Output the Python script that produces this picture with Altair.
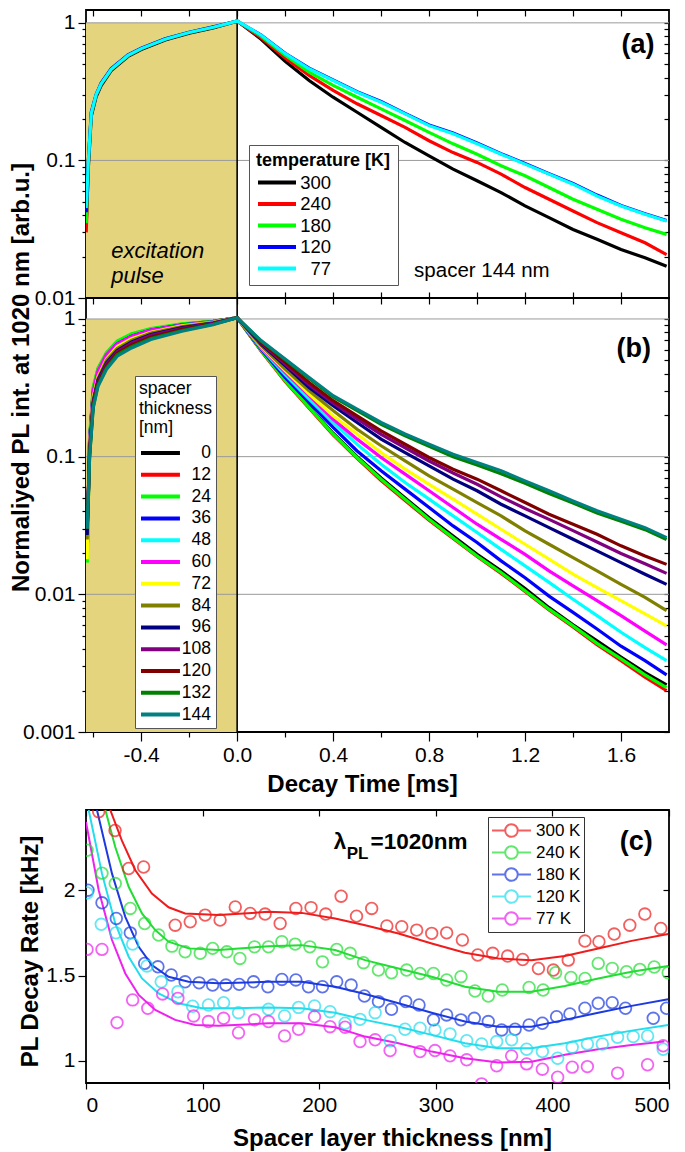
import altair as alt
import pandas as pd

FONT = "Liberation Sans"

# ---------------- shared time grids (ms) ----------------
t_rise_a = [-0.629, -0.62, -0.608, -0.588, -0.567, -0.525, -0.455, -0.4, -0.3, -0.2, -0.1, 0.0]
t_rise_b = [-0.625, -0.615, -0.60, -0.58, -0.545, -0.50, -0.44, -0.36, -0.23, -0.10, 0.0]
t_decay = [0.1, 0.2, 0.3, 0.4, 0.5, 0.6, 0.7, 0.8, 0.9, 1.0, 1.1, 1.2, 1.3, 1.4, 1.5, 1.6, 1.7, 1.79]

# ---------------- panel (a): temperatures, spacer 144 nm ----------------
temp_labels = ["300", "240", "180", "120", "\u200777"]
temp_colors = ["#000000", "#ff0000", "#00ff00", "#0000ff", "#00ffff"]
rise_a = [
    [0.035, 0.09, 0.21, 0.29, 0.35, 0.45, 0.57, 0.64, 0.75, 0.84, 0.92, 1.03],
    [0.03, 0.10, 0.22, 0.30, 0.36, 0.46, 0.58, 0.65, 0.76, 0.85, 0.93, 1.03],
    [0.035, 0.10, 0.22, 0.30, 0.36, 0.46, 0.58, 0.65, 0.765, 0.855, 0.93, 1.03],
    [0.042, 0.10, 0.225, 0.30, 0.365, 0.465, 0.585, 0.655, 0.765, 0.855, 0.935, 1.03],
    [0.045, 0.10, 0.22, 0.30, 0.36, 0.46, 0.58, 0.65, 0.76, 0.85, 0.93, 1.03],
]
decay_a = [
    [0.76, 0.525, 0.381, 0.288, 0.224, 0.174, 0.135, 0.108, 0.0865, 0.0711, 0.0584, 0.0467, 0.0384, 0.0315, 0.0267, 0.0225, 0.0196, 0.017],
    [0.778, 0.556, 0.415, 0.323, 0.258, 0.212, 0.174, 0.139, 0.114, 0.0967, 0.0795, 0.0635, 0.0522, 0.0429, 0.0353, 0.0298, 0.0252, 0.0207],
    [0.80, 0.581, 0.439, 0.351, 0.288, 0.237, 0.195, 0.160, 0.132, 0.111, 0.0914, 0.0773, 0.0635, 0.0522, 0.0441, 0.0373, 0.0324, 0.029],
    [0.815, 0.60, 0.468, 0.385, 0.316, 0.268, 0.22, 0.181, 0.158, 0.134, 0.112, 0.095, 0.080, 0.068, 0.056, 0.047, 0.041, 0.0365],
    [0.813, 0.597, 0.464, 0.381, 0.313, 0.265, 0.218, 0.179, 0.156, 0.132, 0.111, 0.094, 0.0795, 0.0672, 0.0552, 0.0467, 0.0406, 0.0363],
]

# ---------------- panel (b): spacer thickness series ----------------
spacer_labels = ["0", "12", "24", "36", "48", "60", "72", "84", "96", "108", "120", "132", "144"]
spacer_colors = ["#000000", "#ff0000", "#00ff00", "#0000ff", "#00ffff", "#ff00ff", "#ffff00",
                 "#808000", "#000080", "#800080", "#800000", "#008000", "#008080"]
rise_b = [
    [0.02, 0.13, 0.30, 0.42, 0.55, 0.67, 0.76, 0.84, 0.91, 0.96, 1.02],
    [0.02, 0.13, 0.31, 0.43, 0.56, 0.68, 0.77, 0.84, 0.915, 0.96, 1.02],
    [0.017, 0.14, 0.32, 0.44, 0.57, 0.69, 0.78, 0.85, 0.92, 0.96, 1.02],
    [0.02, 0.13, 0.29, 0.41, 0.54, 0.66, 0.75, 0.83, 0.905, 0.955, 1.02],
    [0.02, 0.125, 0.28, 0.40, 0.53, 0.65, 0.74, 0.82, 0.90, 0.95, 1.02],
    [0.022, 0.13, 0.30, 0.42, 0.55, 0.66, 0.75, 0.83, 0.90, 0.95, 1.02],
    [0.018, 0.12, 0.27, 0.38, 0.51, 0.63, 0.72, 0.80, 0.89, 0.945, 1.02],
    [0.025, 0.115, 0.26, 0.37, 0.50, 0.61, 0.70, 0.79, 0.88, 0.94, 1.02],
    [0.027, 0.11, 0.25, 0.36, 0.48, 0.59, 0.68, 0.77, 0.865, 0.935, 1.02],
    [0.03, 0.11, 0.245, 0.35, 0.47, 0.58, 0.67, 0.76, 0.855, 0.93, 1.02],
    [0.03, 0.105, 0.24, 0.34, 0.455, 0.565, 0.65, 0.74, 0.84, 0.92, 1.02],
    [0.03, 0.10, 0.23, 0.33, 0.44, 0.55, 0.63, 0.72, 0.825, 0.915, 1.02],
    [0.03, 0.10, 0.226, 0.325, 0.43, 0.537, 0.616, 0.709, 0.814, 0.91, 1.02],
]
decay_b = [
    [0.59, 0.36, 0.23, 0.148, 0.10, 0.07, 0.05, 0.036, 0.0265, 0.0195, 0.0148, 0.011, 0.008, 0.006, 0.0046, 0.0035, 0.0027, 0.0022],
    [0.585, 0.352, 0.225, 0.144, 0.097, 0.067, 0.048, 0.0345, 0.0255, 0.0188, 0.0142, 0.0105, 0.0077, 0.0058, 0.0043, 0.0033, 0.0025, 0.002],
    [0.589, 0.356, 0.228, 0.146, 0.0986, 0.0686, 0.0491, 0.0351, 0.0258, 0.019, 0.0144, 0.0106, 0.0078, 0.0059, 0.0044, 0.0034, 0.0026, 0.0021],
    [0.602, 0.376, 0.248, 0.163, 0.110, 0.0789, 0.0581, 0.0427, 0.0314, 0.0238, 0.0175, 0.0132, 0.0097, 0.0074, 0.0056, 0.0042, 0.0033, 0.0026],
    [0.612, 0.394, 0.262, 0.177, 0.123, 0.0882, 0.0649, 0.0491, 0.0371, 0.0281, 0.0212, 0.0161, 0.0122, 0.0092, 0.0070, 0.0053, 0.0041, 0.0033],
    [0.622, 0.41, 0.277, 0.187, 0.134, 0.0986, 0.0746, 0.0565, 0.0427, 0.0323, 0.0251, 0.0195, 0.0148, 0.0115, 0.009, 0.007, 0.0054, 0.0043],
    [0.63, 0.421, 0.285, 0.198, 0.146, 0.107, 0.0811, 0.063, 0.0491, 0.0382, 0.0297, 0.0231, 0.018, 0.014, 0.0112, 0.009, 0.0072, 0.0059],
    [0.64, 0.433, 0.301, 0.216, 0.158, 0.12, 0.0933, 0.0726, 0.0581, 0.0464, 0.0371, 0.0289, 0.0231, 0.0185, 0.0148, 0.0118, 0.0095, 0.0076],
    [0.658, 0.458, 0.318, 0.234, 0.177, 0.134, 0.107, 0.0858, 0.0686, 0.0565, 0.0451, 0.0371, 0.0305, 0.0251, 0.0207, 0.017, 0.014, 0.0118],
    [0.668, 0.47, 0.333, 0.246, 0.188, 0.145, 0.116, 0.093, 0.076, 0.063, 0.051, 0.042, 0.035, 0.029, 0.024, 0.0198, 0.0167, 0.0142],
    [0.677, 0.484, 0.346, 0.255, 0.198, 0.154, 0.123, 0.0986, 0.0811, 0.0686, 0.0565, 0.0464, 0.0382, 0.0323, 0.0273, 0.0225, 0.019, 0.0165],
    [0.69, 0.505, 0.37, 0.272, 0.216, 0.172, 0.142, 0.119, 0.1, 0.087, 0.075, 0.064, 0.054, 0.046, 0.039, 0.034, 0.0295, 0.025],
    [0.696, 0.512, 0.376, 0.277, 0.221, 0.177, 0.146, 0.123, 0.104, 0.0907, 0.0789, 0.0667, 0.0565, 0.0477, 0.0404, 0.0351, 0.0305, 0.0258],
]

# ---------------- panel (c): decay rate vs spacer thickness ----------------
c_labels = ["300 K", "240 K", "180 K", "120 K", "\u200777 K"]
c_colors = ["#ee1c1c", "#22dd33", "#1c3ae0", "#22ddee", "#ee22ee"]
pts_x = [
    [10.9, 24.9, 36.6, 49.4, 76.5, 89.4, 102.2, 115, 128, 140.8, 153.6, 166.5, 180, 193, 205.6, 218.8, 232, 245, 258, 270.8, 283.6, 296.5, 309.3, 322.8, 336, 348.8, 361.6, 374.5, 388, 400.8, 413.6, 427.9, 439.9, 453, 466.4, 479.3, 493],
    [0.9, 13.7, 25.1, 38, 50.3, 62.3, 73.7, 85, 98, 108.6, 120.8, 132, 144.5, 156.5, 168, 179.4, 192, 202.8, 215, 226.5, 238, 250.8, 262, 275, 286.5, 298, 309.3, 321.6, 333.6, 345, 357, 380, 392, 402.7, 415.9, 428, 439.3, 451.3, 463.6, 475, 487.3, 499.3],
    [1.7, 13.7, 26, 38, 50.3, 61.7, 73.1, 85, 97, 108.6, 120, 131.4, 143.7, 156, 168, 180, 190.8, 202.8, 215, 227.4, 238.8, 250.8, 262, 274.2, 285.6, 298, 309.3, 321.6, 333, 345, 356.5, 368, 380, 391.4, 403.6, 415, 427.9, 439.3, 451.3, 462.7, 486.5, 497.9],
    [0.9, 13.1, 25.7, 40, 52.3, 64.5, 78.8, 91.4, 105, 118, 130.8, 156.5, 170.3, 182.3, 196, 209.3, 222.2, 235, 248, 260.8, 273.6, 286.5, 299.3, 312.2, 326.5, 339.3, 352.2, 365, 377.9, 391.4, 404.5, 417, 430, 442.8, 455.9, 469.3, 481.6, 495],
    [0.9, 13.7, 26.6, 40, 53, 65.7, 78.8, 92.3, 105, 118, 130.8, 144.5, 156.5, 170.3, 182.3, 196, 209.3, 222.2, 235, 248, 260.8, 286.5, 299.3, 312.2, 326.5, 339.3, 352.2, 365, 377.9, 391.4, 404.5, 417, 430, 455.9, 481.6, 495],
]
pts_y = [
    [2.46, 2.35, 2.127, 2.136, 1.795, 1.815, 1.854, 1.825, 1.902, 1.864, 1.86, 1.805, 1.893, 1.898, 1.86, 1.965, 1.848, 1.893, 1.79, 1.786, 1.766, 1.747, 1.75, 1.708, 1.62, 1.63, 1.614, 1.594, 1.541, 1.532, 1.59, 1.702, 1.698, 1.743, 1.795, 1.86, 1.776],
    [2.234, 2.10, 2.039, 1.893, 1.805, 1.737, 1.672, 1.639, 1.63, 1.659, 1.639, 1.60, 1.668, 1.668, 1.698, 1.684, 1.668, 1.58, 1.653, 1.63, 1.575, 1.532, 1.516, 1.532, 1.512, 1.512, 1.474, 1.493, 1.409, 1.38, 1.415, 1.43, 1.415, 1.516, 1.489, 1.483, 1.571, 1.542, 1.522, 1.536, 1.55, 1.516],
    [2.0, 1.926, 1.834, 1.75, 1.571, 1.551, 1.503, 1.463, 1.457, 1.444, 1.444, 1.448, 1.463, 1.434, 1.477, 1.474, 1.434, 1.434, 1.463, 1.444, 1.38, 1.347, 1.302, 1.347, 1.327, 1.24, 1.269, 1.24, 1.249, 1.23, 1.181, 1.185, 1.21, 1.22, 1.259, 1.275, 1.308, 1.337, 1.341, 1.308, 1.249, 1.308],
    [1.984, 1.80, 1.75, 1.684, 1.556, 1.463, 1.405, 1.32, 1.327, 1.341, 1.282, 1.302, 1.263, 1.313, 1.322, 1.288, 1.22, 1.243, 1.282, 1.118, 1.185, 1.191, 1.181, 1.158, 1.118, 1.099, 1.113, 1.123, 1.068, 1.054, 1.015, 1.08, 1.099, 1.099, 1.138, 1.142, 1.146, 1.068],
    [1.653, 1.653, 1.224, 1.357, 1.308, 1.392, 1.366, 1.263, 1.23, 1.249, 1.165, 1.24, 1.23, 1.146, 1.185, 1.259, 1.2, 1.197, 1.113, 1.123, 1.06, 1.054, 1.06, 1.029, 1.006, 0.865, 0.971, 1.029, 0.982, 0.951, 0.904, 0.963, 0.966, 0.928, 0.977, 1.088],
]
fit_x = [
    [20.8, 30.8, 42.3, 56.5, 70.8, 85, 113.7, 156.5, 185, 213.6, 239.4, 268, 296.5, 325, 353.6, 382, 410.7, 439.3, 467.9, 499.3],
    [16.6, 25.1, 36.6, 48, 59.4, 70.8, 88, 113.7, 156.5, 185, 213.6, 239.4, 268, 296.5, 325, 353.6, 382, 410.7, 439.3, 467.9, 499.3],
    [9.4, 22.3, 33.7, 45.2, 56.5, 70.8, 88, 113.7, 156.5, 185, 213.6, 239.4, 268, 296.5, 325, 353.6, 382, 410.7, 439.3, 467.9, 499.3],
    [2.3, 13.7, 25.1, 36.6, 48, 62.3, 79.4, 99.4, 128, 156.5, 185, 213.6, 239.4, 268, 296.5, 325, 353.6, 382, 410.7, 439.3, 467.9, 499.3],
    [0, 10.9, 22.3, 33.7, 45.2, 59.4, 76.5, 93.7, 113.7, 156.5, 185, 213.6, 239.4, 268, 296.5, 325, 353.6, 382, 410.7, 439.3, 467.9, 496],
]
fit_y = [
    [2.47, 2.29, 2.117, 1.98, 1.90, 1.864, 1.854, 1.873, 1.867, 1.834, 1.795, 1.746, 1.688, 1.633, 1.60, 1.59, 1.614, 1.658, 1.703, 1.743],
    [2.47, 2.253, 2.02, 1.864, 1.766, 1.698, 1.659, 1.649, 1.672, 1.678, 1.649, 1.59, 1.541, 1.493, 1.434, 1.405, 1.405, 1.439, 1.483, 1.522, 1.556],
    [2.47, 2.097, 1.844, 1.668, 1.561, 1.493, 1.463, 1.454, 1.463, 1.463, 1.434, 1.392, 1.337, 1.282, 1.23, 1.20, 1.20, 1.24, 1.282, 1.322, 1.361],
    [2.47, 2.097, 1.805, 1.61, 1.483, 1.395, 1.337, 1.308, 1.308, 1.313, 1.308, 1.282, 1.24, 1.20, 1.152, 1.103, 1.074, 1.074, 1.103, 1.142, 1.177, 1.21],
    [2.40, 2.0, 1.708, 1.512, 1.386, 1.298, 1.24, 1.21, 1.205, 1.22, 1.22, 1.197, 1.142, 1.103, 1.054, 1.015, 0.99, 0.995, 1.035, 1.068, 1.093, 1.113],
]

# ---------------- ticks ----------------
x_major = [-0.4, 0.0, 0.4, 0.8, 1.2, 1.6]
x_minor = [-0.6, -0.2, 0.2, 0.6, 1.0, 1.4]
x_all = sorted(x_major + x_minor)
dec_a = [0.01, 0.1, 1.0]
dec_b = [0.001, 0.01, 0.1, 1.0]
minor_a = [round(m * d, 4) for d in [0.01, 0.1] for m in range(2, 10)]
minor_b = [round(m * d, 5) for d in [0.001, 0.01, 0.1] for m in range(2, 10)]
c_x_ticks = [0, 100, 200, 300, 400, 500]
c_y_ticks = [1.0, 1.5, 2.0]
pulse_t = [-0.63, 0.0]
grid_a = [1.0, 0.1]
grid_b = [1.0, 0.1, 0.01]

W = 583
HA, HB, HC = 288, 434, 273
xs = alt.Scale(domain=[-0.63, 1.8], nice=False, zero=False)
ya = alt.Scale(type="log", domain=[0.01, 1.24], nice=False)
yb = alt.Scale(type="log", domain=[0.001, 1.42], nice=False)
xc = alt.Scale(domain=[0, 500], nice=False, zero=False)
yc = alt.Scale(domain=[0.87, 2.47], nice=False, zero=False)
PULSE = "#e4d47e"

# legend symbol shapes (unit = half of sqrt(symbolSize))
SYM_LINE_A = "M-1,0L3,0"
SYM_LINE_B = "M-1,0L3.1,0"
SYM_C = ("M-1,0L0.37,0M1.73,0L3.1,0M0.39,0A0.66,0.66,0,1,1,1.71,0"
         "A0.66,0.66,0,1,1,0.39,0")


def inward(orient, values, size=6):
    return alt.Axis(orient=orient, values=values, labels=False, ticks=True, tickSize=size,
                    offset=-size, domain=False, grid=False, title=None,
                    tickColor="black", tickWidth=1.2)


def minor_axis(orient, values, size=4):
    return alt.Axis(orient=orient, values=values, labels=False, ticks=True, tickSize=size,
                    domain=False, grid=False, title=None, tickColor="black", tickWidth=1.2)


def long_df(labels, t1, rises, decays):
    rows = []
    for lab, r, d in zip(labels, rises, decays):
        for t, v in zip(t1 + t_decay, r + d):
            rows.append({"s": lab, "t": t, "v": v})
    return pd.DataFrame(rows)


def text_layer(txt, x, y, xsc, ysc, size, weight="normal", style="normal", align="left"):
    return alt.Chart(pd.DataFrame({"k": [0]})).mark_text(
        text=txt, font=FONT, fontSize=size, fontWeight=weight, fontStyle=style,
        align=align, baseline="middle", color="black"
    ).encode(x=alt.X(datum=x, scale=xsc, axis=None), y=alt.Y(datum=y, scale=ysc, axis=None))


def pulse_layer(ysc, ybottom, xaxis, yaxis):
    df = pd.DataFrame({"x": [pulse_t[0]], "x2": [pulse_t[1]], "y": [ybottom], "y2": [1.0]})
    return alt.Chart(df).mark_rect(color=PULSE).encode(
        x=alt.X("x:Q", scale=xs, axis=xaxis), x2="x2:Q",
        y=alt.Y("y:Q", scale=ysc, axis=yaxis), y2="y2:Q")


def grid_layer(vals, ysc, yaxis):
    return alt.Chart(pd.DataFrame({"g": vals})).mark_rule(color="#9a9a9a", strokeWidth=1).encode(
        y=alt.Y("g:Q", scale=ysc, axis=yaxis))


def vline_layer():
    return alt.Chart(pd.DataFrame({"z": [0.0]})).mark_rule(color="black", strokeWidth=1.6).encode(
        x=alt.X("z:Q", scale=xs, axis=inward("top", x_all)))


# ---------------- panel (a) ----------------
df_a = long_df(temp_labels, t_rise_a, rise_a, decay_a)
leg_a = alt.Legend(title="temperature [K]", orient="none", legendX=163, legendY=135,
                   symbolType=SYM_LINE_A, symbolSize=361, symbolStrokeWidth=4,
                   labelAlign="right", labelOffset=52, labelFontSize=18.5,
                   titleFontSize=18, titleFontWeight="bold", titlePadding=1,
                   padding=7, rowPadding=0.5, strokeColor="#555555", fillColor="white")
lines_a = alt.Chart(df_a).mark_line(strokeWidth=3.2, clip=True).encode(
    x=alt.X("t:Q", scale=xs, axis=None),
    y=alt.Y("v:Q", scale=ya, axis=minor_axis("left", minor_a)),
    color=alt.Color("s:N", scale=alt.Scale(domain=temp_labels, range=temp_colors), legend=leg_a),
)
left_a = alt.Axis(orient="left", values=dec_a, format="~g", tickSize=8, labelFontSize=21,
                  labelPadding=3, domain=False, grid=False, title=None, tickColor="black",
                  tickWidth=1.2, labelColor="black")
chart_a = alt.layer(
    pulse_layer(ya, 0.01, inward("bottom", x_all), left_a),
    grid_layer(grid_a, ya, inward("right", dec_a + minor_a, 5)),
    vline_layer(),
    lines_a,
    text_layer("excitation", -0.525, 0.022, xs, ya, 22, style="italic"),
    text_layer("pulse", -0.525, 0.0145, xs, ya, 22, style="italic"),
    text_layer("spacer 144 nm", 0.7375, 0.0157, xs, ya, 20.5),
    text_layer("(a)", 1.74, 0.69, xs, ya, 27, weight="bold", align="right"),
).resolve_axis(x="independent", y="independent").properties(width=W, height=HA)

# ---------------- panel (b) ----------------
df_b = long_df(spacer_labels, t_rise_b, rise_b, decay_b)
leg_b = alt.Legend(title=["spacer", "thickness", "[nm]"], orient="none", legendX=49, legendY=78,
                   symbolType=SYM_LINE_B, symbolSize=361, symbolStrokeWidth=4,
                   labelAlign="right", labelOffset=49, labelFontSize=17.5,
                   titleFontSize=17.5, titleFontWeight="normal", titleLineHeight=19.5,
                   titlePadding=5, padding=4, rowPadding=1.8, strokeColor="#555555",
                   fillColor="white")
lines_b = alt.Chart(df_b).mark_line(strokeWidth=3.2, clip=True).encode(
    x=alt.X("t:Q", scale=xs, axis=minor_axis("bottom", x_minor, 5)),
    y=alt.Y("v:Q", scale=yb, axis=minor_axis("left", minor_b)),
    color=alt.Color("s:N", scale=alt.Scale(domain=spacer_labels, range=spacer_colors), legend=leg_b),
)
left_b = alt.Axis(orient="left", values=dec_b, format="~g", tickSize=8, labelFontSize=21,
                  labelPadding=3, domain=False, grid=False, tickColor="black", tickWidth=1.2,
                  labelColor="black",
                  title="Normaliyed PL int. at 1020 nm [arb.u.]", titleFontSize=24,
                  titleFontWeight="bold", titleAngle=270, titleAlign="center",
                  titleBaseline="top", titleX=-77, titleY=79, titleColor="black")
bottom_b = alt.Axis(orient="bottom", values=x_major, tickSize=9, labelFontSize=21, labelPadding=3,
                    labelExpr="replace(format(datum.value, '.1f'), '\u2212', '-')",
                    domain=False, grid=False, tickColor="black", tickWidth=1.2, labelColor="black",
                    title="Decay Time [ms]", titleFontSize=24, titleFontWeight="bold",
                    titleX=276, titleY=40, titleBaseline="top", titleAlign="center",
                    titleColor="black")
chart_b = alt.layer(
    pulse_layer(yb, 0.001, bottom_b, left_b),
    grid_layer(grid_b, yb, inward("right", dec_b + minor_b, 5)),
    vline_layer(),
    lines_b,
    text_layer("(b)", 1.725, 0.606, xs, yb, 27, weight="bold", align="right"),
).resolve_axis(x="independent", y="independent").properties(width=W, height=HB)

# ---------------- panel (c) ----------------
rows_p, rows_f = [], []
for lab, xx, yy in zip(c_labels, pts_x, pts_y):
    for a, b in zip(xx, yy):
        rows_p.append({"s": lab, "d": a, "r": b})
for lab, xx, yy in zip(c_labels, fit_x, fit_y):
    for a, b in zip(xx, yy):
        rows_f.append({"s": lab, "d": a, "r": b})
df_p = pd.DataFrame(rows_p)
df_f = pd.DataFrame(rows_f)

leg_c = alt.Legend(title=None, orient="none", legendX=402, legendY=7, symbolType=SYM_C,
                   symbolSize=361, symbolStrokeWidth=2, symbolFillColor="transparent",
                   labelFontSize=17, labelOffset=24, padding=3, rowPadding=1,
                   strokeColor="#333333", fillColor="white")
cscale = alt.Scale(domain=c_labels, range=c_colors)
fit_lines = alt.Chart(df_f).mark_line(strokeWidth=2, clip=True).encode(
    x=alt.X("d:Q", scale=xc, axis=alt.Axis(
        orient="bottom", values=c_x_ticks, format="d", tickSize=6, labelFontSize=21,
        labelPadding=5, domain=False, grid=False, tickColor="black", tickWidth=1.2,
        labelColor="black", title="Spacer layer thickness [nm]", titleFontSize=24,
        titleFontWeight="bold", titleX=306, titleY=43, titleBaseline="top",
        titleAlign="center", titleColor="black")),
    y=alt.Y("r:Q", scale=yc, axis=alt.Axis(
        orient="left", values=c_y_ticks, format="~g", tickSize=8, labelFontSize=21,
        labelPadding=3, domain=False, grid=False, tickColor="black", tickWidth=1.2,
        labelColor="black", title="PL Decay Rate [kHz]", titleFontSize=24,
        titleFontWeight="bold", titleAngle=270, titleAlign="center", titleBaseline="top",
        titleX=-68, titleY=141, titleColor="black")),
    color=alt.Color("s:N", scale=cscale, legend=leg_c),
)
points = alt.Chart(df_p).mark_point(shape="circle", filled=False, size=135, strokeWidth=1.8,
                                    clip=True).encode(
    x=alt.X("d:Q", scale=xc, axis=inward("top", c_x_ticks)),
    y=alt.Y("r:Q", scale=yc, axis=inward("right", c_y_ticks)),
    color=alt.Color("s:N", scale=cscale, legend=leg_c),
)
chart_c = alt.layer(
    fit_lines,
    points,
    text_layer("\u03bb", 212.5, 2.28, xc, yc, 22.5, weight="bold"),
    text_layer("PL", 223.6, 2.215, xc, yc, 17, weight="bold"),
    text_layer("=1020nm", 244, 2.28, xc, yc, 22.5, weight="bold"),
    text_layer("(c)", 486, 2.28, xc, yc, 27, weight="bold", align="right"),
).resolve_axis(x="independent", y="independent").properties(width=W, height=HC)

inner = alt.vconcat(chart_a, chart_b, spacing=0, bounds="flush").resolve_scale(color="independent")
chart = alt.vconcat(inner, chart_c, spacing=11).resolve_scale(color="independent").properties(
    padding=0
).configure_view(stroke="black", strokeWidth=1.8).configure_axis(
    labelFont=FONT, titleFont=FONT
).configure_legend(labelFont=FONT, titleFont=FONT, labelColor="black", titleColor="black")

chart.save("out.html", embed_options={"renderer": "svg", "actions": False})
